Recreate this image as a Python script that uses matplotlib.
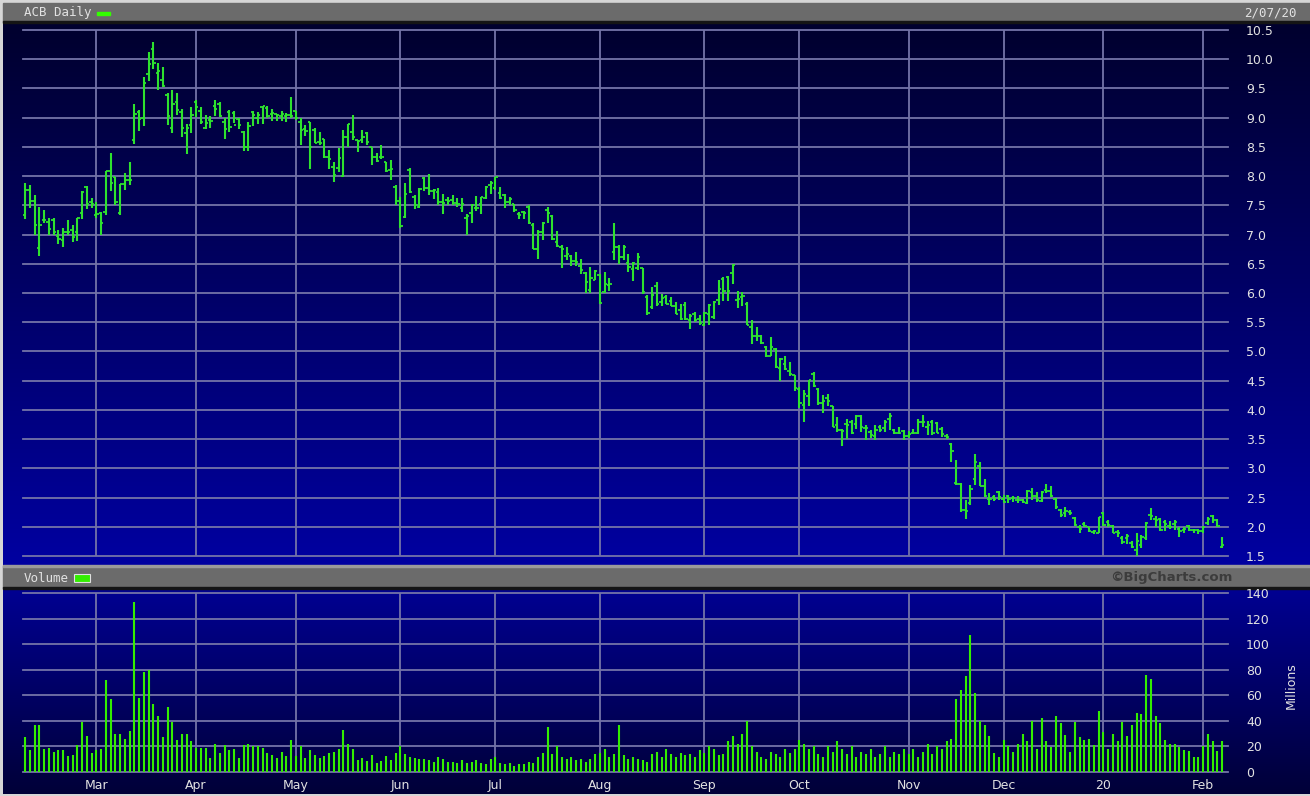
import numpy as np
import pandas as pd
import matplotlib
matplotlib.use("Agg")
import matplotlib.pyplot as plt
from matplotlib.patches import Rectangle

# trading calendar Feb 7 2019 .. Feb 7 2020
holidays = ["2019-02-18", "2019-04-19", "2019-05-27", "2019-07-04", "2019-09-02",
            "2019-11-28", "2019-12-25", "2020-01-01", "2020-01-20"]
dates = pd.bdate_range("2019-02-07", "2020-02-07", freq="C", holidays=holidays)

opens = [7.33, 7.76, 7.58, 6.77, 7.25, 7.22, 7.25, 6.97, 6.90, 7.05, 7.08, 7.05, 7.37, 7.82, 7.56,
         7.33, 7.37, 7.39, 8.08, 7.99, 7.37, 7.86, 7.94, 8.62, 9.10, 8.99, 9.75, 10.17, 9.77, 9.64,
         9.39, 8.82, 9.27, 9.09, 8.74, 8.87, 9.27, 9.12, 8.82, 8.96, 9.20, 9.23, 8.93,
         9.09, 9.08, 8.98, 8.76, 8.50, 9.09, 8.99, 9.19, 9.17, 9.06, 9.06, 9.03, 9.02, 9.04,
         9.11, 8.93, 8.80, 8.93, 8.79, 8.59, 8.63, 8.33, 8.16, 8.14, 8.00, 8.67, 8.75, 8.61,
         8.62, 8.73, 8.50, 8.33, 8.33, 8.24, 8.10, 7.82, 7.58, 7.30, 8.11, 7.65, 7.47, 7.97, 7.80,
         7.75, 7.73, 7.55, 7.59, 7.59, 7.54, 7.46, 7.29, 7.37, 7.46, 7.53, 7.62, 7.84, 7.79, 7.71,
         7.67, 7.55, 7.52, 7.36, 7.38, 7.47, 7.16, 6.76, 7.05, 7.42, 7.31, 6.88, 6.79, 6.64, 6.63,
         6.55, 6.47, 6.35, 6.05, 6.23, 6.30, 6.02, 6.14, 6.70, 6.78, 6.62, 6.52,
         6.41, 6.42, 6.43, 5.93, 5.76, 6.12, 5.85, 5.94, 5.86, 5.78, 5.71, 5.79, 5.53, 5.64, 5.55,
         5.46, 5.64, 5.59, 5.88, 6.24, 6.28, 6.34, 5.88, 5.93, 5.82, 5.41, 5.27, 5.27, 5.08, 4.93,
         5.05, 4.72, 4.79, 4.67, 4.59, 4.35, 4.09, 4.23, 4.61, 4.36, 4.11, 4.20,
         4.06, 3.74, 3.65, 3.76, 3.80, 3.76, 3.89, 3.69, 3.62, 3.55, 3.71, 3.69, 3.85, 3.65, 3.61,
         3.64, 3.55, 3.61, 3.61, 3.80, 3.71, 3.80, 3.78, 3.68, 3.55, 3.42, 2.75, 2.73, 2.29, 2.41,
         2.81, 3.04, 2.70, 2.48, 2.51, 2.59, 2.47, 2.52, 2.49, 2.46, 2.45,
         2.41, 2.60, 2.53, 2.44, 2.63, 2.62, 2.48, 2.29, 2.23, 2.25, 2.15, 2.00, 2.04, 1.99, 1.91,
         1.90, 2.23, 2.08, 2.01, 1.91, 1.80, 1.81, 1.72, 1.60, 1.69, 1.80, 2.21, 2.13, 2.13, 2.08,
         2.02, 2.05, 1.96, 1.95, 2.01, 1.94, 1.95, 1.92, 2.06, 2.18, 2.12, 1.66]
highs = [7.89, 7.85, 7.68, 7.47, 7.42, 7.29, 7.28, 7.08, 7.11, 7.25, 7.17, 7.29, 7.74, 7.83, 7.62,
         7.56, 7.39, 8.08, 8.40, 7.99, 7.86, 8.06, 8.25, 9.23, 9.13, 9.70, 10.13, 10.30, 9.94, 9.86,
         9.43, 9.47, 9.43, 9.14, 8.90, 9.19, 9.30, 9.19, 9.05, 9.03, 9.30, 9.26, 8.99,
         9.13, 9.12, 9.00, 8.78, 8.92, 9.12, 9.09, 9.20, 9.20, 9.14, 9.07, 9.12, 9.08, 9.35,
         9.12, 8.99, 8.87, 8.93, 8.83, 8.75, 8.64, 8.44, 8.25, 8.48, 8.79, 8.90, 9.04, 8.62,
         8.79, 8.76, 8.50, 8.40, 8.53, 8.25, 8.27, 7.84, 7.65, 7.88, 8.14, 7.67, 7.80, 7.98, 8.04,
         7.78, 7.80, 7.70, 7.65, 7.67, 7.63, 7.62, 7.36, 7.53, 7.66, 7.65, 7.83, 7.92, 7.99, 7.82,
         7.69, 7.64, 7.53, 7.39, 7.40, 7.50, 7.19, 7.08, 7.22, 7.48, 7.33, 7.06, 6.82, 6.78, 6.65,
         6.71, 6.59, 6.36, 6.44, 6.39, 6.33, 6.36, 6.26, 7.20, 6.82, 6.82, 6.67,
         6.53, 6.68, 6.43, 5.97, 6.10, 6.19, 5.99, 5.97, 5.93, 5.85, 5.82, 5.85, 5.64, 5.67, 5.62,
         5.68, 5.81, 5.87, 6.22, 6.27, 6.29, 6.50, 6.04, 6.01, 5.84, 5.54, 5.41, 5.28, 5.09, 5.24,
         5.06, 4.88, 4.92, 4.82, 4.60, 4.39, 4.34, 4.51, 4.64, 4.38, 4.25, 4.28,
         4.06, 3.87, 3.68, 3.85, 3.82, 3.91, 3.91, 3.74, 3.65, 3.74, 3.74, 3.83, 3.94, 3.68, 3.70,
         3.65, 3.64, 3.68, 3.85, 3.91, 3.81, 3.83, 3.80, 3.71, 3.58, 3.44, 3.15, 2.75, 2.45, 2.72,
         3.25, 3.10, 2.82, 2.57, 2.55, 2.62, 2.55, 2.55, 2.52, 2.52, 2.48,
         2.63, 2.66, 2.60, 2.62, 2.73, 2.70, 2.50, 2.31, 2.34, 2.29, 2.17, 2.03, 2.08, 1.99, 1.95,
         2.17, 2.25, 2.11, 2.03, 1.94, 1.84, 1.87, 1.75, 1.89, 1.86, 2.08, 2.32, 2.19, 2.15, 2.11,
         2.10, 2.11, 1.99, 1.99, 2.03, 1.96, 1.96, 2.02, 2.17, 2.21, 2.13, 1.82]
lows = [7.26, 7.45, 6.99, 6.63, 7.19, 6.99, 6.99, 6.84, 6.79, 6.99, 6.88, 6.89, 7.26, 7.43, 7.45,
        7.28, 6.99, 7.33, 7.75, 7.50, 7.33, 7.77, 7.85, 8.55, 8.78, 8.85, 9.62, 9.83, 9.48, 9.53,
        8.87, 8.73, 9.05, 8.67, 8.38, 8.74, 9.01, 8.90, 8.80, 8.82, 9.03, 9.01, 8.63,
        8.76, 8.91, 8.80, 8.43, 8.43, 8.86, 8.90, 8.89, 8.99, 8.94, 8.94, 8.94, 8.92, 8.99,
        8.96, 8.54, 8.68, 8.13, 8.56, 8.54, 8.31, 8.13, 7.90, 8.07, 7.99, 8.50, 8.62, 8.41,
        8.56, 8.54, 8.19, 8.24, 8.29, 8.07, 7.93, 7.50, 7.12, 7.29, 7.71, 7.44, 7.46, 7.75, 7.67,
        7.60, 7.50, 7.35, 7.50, 7.50, 7.47, 7.38, 6.99, 7.19, 7.41, 7.35, 7.60, 7.70, 7.76, 7.60,
        7.45, 7.51, 7.39, 7.26, 7.27, 7.18, 6.75, 6.59, 6.90, 7.19, 6.90, 6.79, 6.42, 6.57, 6.46,
        6.46, 6.33, 6.00, 6.00, 6.22, 5.82, 6.00, 6.03, 6.56, 6.50, 6.56, 6.36,
        6.21, 6.39, 5.99, 5.62, 5.72, 5.77, 5.77, 5.81, 5.77, 5.64, 5.54, 5.54, 5.38, 5.51, 5.46,
        5.43, 5.46, 5.55, 5.80, 5.87, 5.87, 6.16, 5.74, 5.78, 5.45, 5.12, 5.18, 5.13, 4.91, 4.92,
        4.72, 4.50, 4.69, 4.58, 4.33, 4.03, 3.80, 4.06, 4.40, 4.09, 3.94, 4.06,
        3.71, 3.63, 3.38, 3.51, 3.59, 3.68, 3.63, 3.49, 3.52, 3.49, 3.63, 3.63, 3.65, 3.58, 3.58,
        3.49, 3.52, 3.58, 3.58, 3.71, 3.57, 3.57, 3.60, 3.54, 3.51, 3.11, 2.71, 2.26, 2.13, 2.37,
        2.72, 2.69, 2.51, 2.38, 2.44, 2.46, 2.40, 2.40, 2.43, 2.41, 2.41,
        2.39, 2.46, 2.43, 2.43, 2.57, 2.51, 2.30, 2.17, 2.16, 2.20, 2.01, 1.89, 1.99, 1.91, 1.87,
        1.89, 2.01, 2.00, 1.89, 1.83, 1.70, 1.71, 1.63, 1.50, 1.63, 1.77, 2.11, 1.99, 1.92, 1.92,
        1.97, 1.95, 1.83, 1.89, 1.92, 1.89, 1.88, 1.89, 2.03, 2.06, 2.00, 1.64]
closes = [7.76, 7.58, 7.17, 7.17, 7.25, 7.09, 7.05, 6.92, 7.05, 7.05, 6.96, 7.28, 7.73, 7.52, 7.53,
          7.35, 7.20, 8.08, 7.89, 7.56, 7.86, 7.94, 7.94, 9.06, 8.97, 9.60, 9.92, 9.94, 9.79, 9.54,
          9.02, 9.23, 9.13, 8.83, 8.83, 9.05, 9.18, 8.93, 8.91, 8.95, 9.14, 9.02, 8.80,
          8.84, 8.87, 8.87, 8.50, 8.86, 9.04, 9.04, 9.20, 9.03, 9.08, 9.05, 9.06, 9.04, 9.03,
          8.99, 8.79, 8.77, 8.50, 8.57, 8.57, 8.33, 8.30, 8.02, 8.31, 8.67, 8.90, 8.67, 8.60,
          8.67, 8.59, 8.32, 8.26, 8.32, 8.08, 8.12, 7.58, 7.15, 7.70, 7.72, 7.50, 7.78, 7.80, 7.75,
          7.76, 7.56, 7.54, 7.57, 7.54, 7.52, 7.52, 7.31, 7.50, 7.45, 7.64, 7.82, 7.88, 7.98, 7.63,
          7.56, 7.60, 7.42, 7.33, 7.37, 7.19, 6.76, 7.05, 7.19, 7.37, 6.93, 6.81, 6.76, 6.66, 6.55,
          6.53, 6.39, 6.19, 6.25, 6.37, 5.83, 6.16, 6.16, 6.79, 6.62, 6.78, 6.45,
          6.51, 6.61, 6.02, 5.65, 5.96, 5.81, 5.92, 5.81, 5.78, 5.64, 5.55, 5.55, 5.60, 5.54, 5.48,
          5.66, 5.80, 5.85, 6.06, 6.03, 6.03, 6.48, 5.89, 5.95, 5.45, 5.27, 5.27, 5.15, 4.92, 5.08,
          4.74, 4.87, 4.70, 4.61, 4.38, 4.12, 4.27, 4.51, 4.41, 4.11, 4.15, 4.15,
          3.71, 3.66, 3.64, 3.75, 3.61, 3.90, 3.71, 3.69, 3.57, 3.66, 3.66, 3.80, 3.89, 3.61, 3.61,
          3.55, 3.59, 3.61, 3.80, 3.80, 3.74, 3.61, 3.61, 3.58, 3.54, 3.30, 2.73, 2.29, 2.27, 2.65,
          3.11, 2.70, 2.52, 2.47, 2.48, 2.51, 2.43, 2.48, 2.49, 2.45, 2.43,
          2.62, 2.53, 2.46, 2.60, 2.62, 2.53, 2.33, 2.20, 2.27, 2.24, 2.03, 1.97, 2.01, 1.93, 1.93,
          2.16, 2.03, 2.03, 1.90, 1.89, 1.74, 1.84, 1.65, 1.76, 1.82, 2.07, 2.18, 2.11, 1.94, 2.05,
          2.00, 2.08, 1.92, 1.97, 1.94, 1.95, 1.92, 2.00, 2.13, 2.12, 2.02, 1.69]

# volume, millions of shares
volume = [27, 17, 37, 37, 18, 19, 16, 17, 17, 12.5, 13, 21, 39, 28, 14.5,
          17, 18, 72, 57, 30, 30, 26, 32, 133, 58, 78, 80, 53.5, 44, 27, 51, 39, 25, 30, 30, 24,
          19, 19, 19, 11, 22, 14.5, 21, 17, 18, 11, 21, 22, 20, 20, 19, 15, 13, 11, 16, 12.5, 25,
          12.5, 20, 11, 17, 13, 11, 12.5, 15, 16, 18, 33, 22, 18, 9, 11, 8.5, 13, 7, 8.5, 12.5, 9, 15,
          20, 14, 12, 11, 10, 10, 9, 8, 12, 10, 8, 8, 7, 9, 7, 8, 9, 7, 6, 10,
          12, 7, 6, 7, 5, 6, 6, 8, 7, 12, 15, 35, 14, 20, 12, 10, 12, 9, 10, 8, 10, 14,
          15, 18, 12, 14, 37, 13, 10, 12, 10, 9, 8, 14, 16, 12, 18, 14, 12, 15, 13, 14, 12, 17,
          15, 20, 18, 13, 14, 24, 28, 22, 30, 40, 20, 16, 12, 10, 16, 14, 12, 18, 15, 18,
          25, 22, 18, 20, 14, 12, 20, 16, 24, 18, 14, 20, 12, 16, 14, 18, 12, 14, 20, 12, 16, 14, 18,
          14, 18, 12, 16, 22, 14, 20, 18, 24, 26, 57, 64, 75, 107, 62, 40, 37, 28, 15, 12,
          25, 20, 16, 22, 30, 24, 40, 18, 42, 24, 19.5, 44, 38, 29, 15.5, 39, 27, 25, 26, 21, 48,
          31, 18, 30, 24, 39, 28, 37, 46, 45, 76, 73, 44, 38, 25, 22, 22, 19.5, 17, 16.5, 12, 12,
          20, 30, 24, 16.5, 24.5]

price_ticks = [1.5, 2.0, 2.5, 3.0, 3.5, 4.0, 4.5, 5.0, 5.5, 6.0, 6.5, 7.0, 7.5, 8.0, 8.5, 9.0, 9.5, 10.0, 10.5]
vol_ticks = [0, 20, 40, 60, 80, 100, 120, 140]

idx = np.arange(len(dates))
month_pos = [i for i in range(1, len(dates)) if dates[i].month != dates[i - 1].month]
month_lab = ["20" if dates[i].month == 1 else dates[i].strftime("%b") for i in month_pos]

W, H = 1310, 796
fig = plt.figure(figsize=(W / 100, H / 100), dpi=100)

# background in pixel coordinates
bg = fig.add_axes([0, 0, 1, 1], zorder=-10)
bg.set_xlim(0, W)
bg.set_ylim(H, 0)
bg.axis("off")
bg.add_patch(Rectangle((0, 0), W, H, color="#d6d6d6"))


def gradient(y0, y1, top, bot):
    t = np.linspace(0, 1, 200)[:, None, None]
    c = np.array(top)[None, None, :] * (1 - t) + np.array(bot)[None, None, :] * t
    bg.imshow(c, extent=(3, W, y1, y0), aspect="auto", interpolation="bilinear", zorder=1)


gradient(23, 566, (0, 0, 0.18), (0, 0, 0.63))
gradient(589, 794, (0, 0, 0.57), (0, 0, 0.22))
bg.add_patch(Rectangle((3, 3), W, 19, color="#6b6b6b", zorder=2))
bg.add_patch(Rectangle((3, 21), W, 2, color="#151515", zorder=2))
bg.add_patch(Rectangle((3, 566), W, 22, color="#6b6b6b", zorder=2))
bg.add_patch(Rectangle((3, 565), W, 1.5, color="#9a9a9a", zorder=2))
bg.add_patch(Rectangle((3, 587), W, 2, color="#151515", zorder=2))
bg.set_xlim(0, W)
bg.set_ylim(H, 0)

txt = "#e2e2e2"
bg.text(24, 12.5, "ACB Daily", color=txt, fontsize=9, family="DejaVu Sans Mono", va="center", zorder=3)
bg.add_patch(Rectangle((97, 11.5), 13, 3.5, color="#33ff00", zorder=3))
bg.text(1297, 12.5, "2/07/20", color=txt, fontsize=9, family="DejaVu Sans Mono", va="center", ha="right", zorder=3)
bg.text(24, 578, "Volume", color=txt, fontsize=9, family="DejaVu Sans Mono", va="center", zorder=3)
bg.add_patch(Rectangle((74, 574), 16, 8, facecolor="#33ee00", edgecolor="#e0e0e0", lw=0.8, zorder=3))
bg.text(1233, 577, "\u00a9BigCharts.com", color="#3c3c3c", fontsize=9.5, fontweight="bold",
        va="center", ha="right", zorder=3)
bg.text(1291, 686, "Millions", color=txt, fontsize=9, rotation=90, va="center", ha="center", zorder=3)

grid_c = "#7474a8"
xl = (-2 / 4.75, (1228 - 25) / 4.75)

# price panel
ax = fig.add_axes([23 / W, 1 - 556 / H, 1205 / W, 526 / H])
ax.set_facecolor("none")
for s in ax.spines.values():
    s.set_visible(False)
for v in price_ticks:
    ax.axhline(v, color=grid_c, lw=1.3, clip_on=False, zorder=1)
for m in month_pos:
    ax.axvline(m, color=grid_c, lw=1.3, zorder=1)
green = "#2ee22e"
ax.vlines(idx, lows, highs, color=green, lw=1.5, zorder=3)
ax.hlines(opens, idx - 0.5, idx, color=green, lw=1.3, zorder=3)
ax.hlines(closes, idx, idx + 0.5, color=green, lw=1.3, zorder=3)
ax.set_xlim(*xl)
ax.set_ylim(1.5, 10.5)
ax.set_xticks([])
ax.yaxis.tick_right()
ax.set_yticks(price_ticks, [f"{v:.1f}" for v in price_ticks])
ax.tick_params(axis="y", length=0, pad=13, labelsize=9, labelcolor=txt)

# volume panel
axv = fig.add_axes([23 / W, 1 - 772 / H, 1205 / W, 179 / H])
axv.set_facecolor("none")
for s in axv.spines.values():
    s.set_visible(False)
for v in vol_ticks:
    axv.axhline(v, color=grid_c, lw=1.3, clip_on=False, zorder=1)
for m in month_pos:
    axv.axvline(m, color=grid_c, lw=1.3, zorder=1)
axv.vlines(idx, 0, volume, color="#33ee00", lw=1.5, zorder=3)
axv.set_xlim(*xl)
axv.set_ylim(0, 140)
axv.yaxis.tick_right()
axv.set_yticks(vol_ticks, [str(v) for v in vol_ticks])
axv.set_xticks(month_pos, month_lab)
axv.tick_params(axis="y", length=0, pad=13, labelsize=9, labelcolor=txt)
axv.tick_params(axis="x", length=0, pad=5, labelsize=9, labelcolor=txt)

fig.savefig("out.png", dpi=100)
